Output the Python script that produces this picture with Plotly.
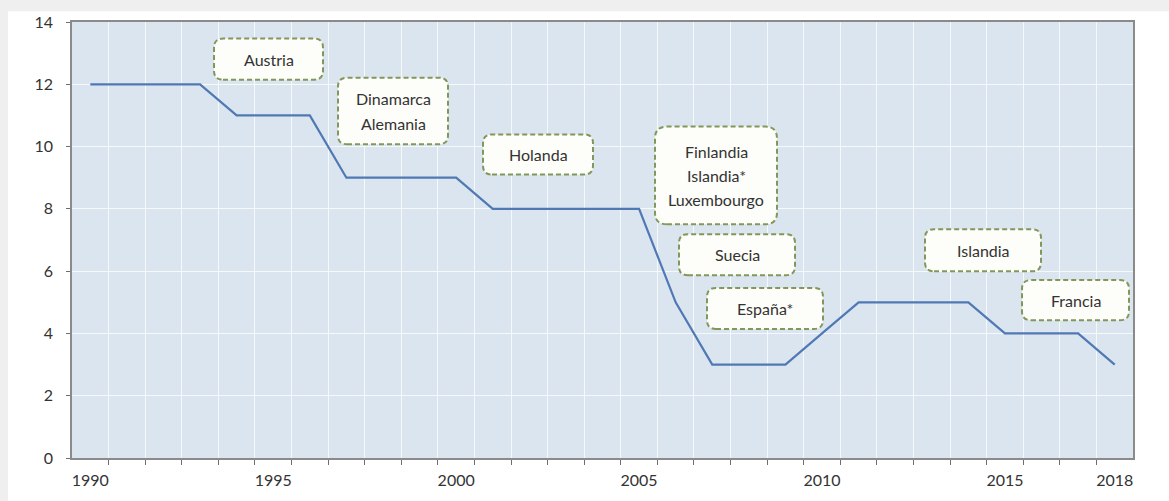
import plotly.graph_objects as go

years = list(range(1990, 2019))
values = [12, 12, 12, 12, 11, 11, 11, 9, 9, 9, 9, 8, 8, 8, 8, 8,
          5, 3, 3, 3, 4, 5, 5, 5, 5, 4, 4, 4, 3]
tick_labels = [1990, 1995, 2000, 2005, 2010, 2015, 2018]
y_ticks = [0, 2, 4, 6, 8, 10, 12, 14]

# annotation boxes: text lines and pixel box (x0, y0, x1, y1)
boxes = [
    (["Austria"], (214, 35, 323, 77)),
    (["Dinamarca", "Alemania"], (338, 75, 448, 143)),
    (["Holanda"], (483, 133, 593, 174)),
    (["Finlandia", "Islandia*", "Luxembourgo"], (655, 125, 777, 225)),
    (["Suecia"], (679, 235, 795, 277)),
    (["España*"], (707, 290, 823, 332)),
    (["Islandia"], (925, 230, 1041, 273)),
    (["Francia"], (1022, 282, 1129, 323)),
]

W, H = 1169, 501
L, R, T, B = 72, 1133, 18, 464
PW, PH = R - L, B - T


def px(x):
    return (x - L) / PW


def py(y):
    return (B - y) / PH


def rounded_path(x0, y0, x1, y1, r):
    rx, ry = r / PW, r / PH
    a, b, c, d = px(x0), py(y1), px(x1), py(y0)  # left, bottom, right, top
    return (f"M {a+rx},{b} L {c-rx},{b} Q {c},{b} {c},{b+ry} "
            f"L {c},{d-ry} Q {c},{d} {c-rx},{d} L {a+rx},{d} "
            f"Q {a},{d} {a},{d-ry} L {a},{b+ry} Q {a},{b} {a+rx},{b} Z")


fig = go.Figure()
fig.add_trace(go.Scatter(x=years, y=values, mode="lines",
                         line=dict(color="#5079b3", width=2.2),
                         hoverinfo="skip", showlegend=False))

shapes = []
# light grey page strips (top and left)
shapes.append(dict(type="rect", xref="paper", yref="paper",
                   x0=px(0), x1=px(W), y0=py(7), y1=py(-10),
                   fillcolor="#efefef", line=dict(width=0), layer="below"))
shapes.append(dict(type="rect", xref="paper", yref="paper",
                   x0=px(0), x1=px(8), y0=py(H + 10), y1=py(-10),
                   fillcolor="#efefef", line=dict(width=0), layer="below"))

annotations = []
for lines, (x0, y0, x1, y1) in boxes:
    r = 12 if len(lines) == 3 else 9
    shapes.append(dict(type="path", xref="paper", yref="paper",
                       path=rounded_path(x0, y0, x1, y1, r),
                       fillcolor="#fdfdf9",
                       line=dict(color="#82975a", width=2, dash="5px,3px")))
    cx = (x0 + x1) / 2
    cy = (y0 + y1) / 2
    n = len(lines)
    for i, t in enumerate(lines):
        ly = cy + (i - (n - 1) / 2) * 25
        annotations.append(dict(xref="paper", yref="paper", x=px(cx), y=py(ly),
                                text=t, showarrow=False, xanchor="center",
                                yanchor="middle",
                                font=dict(family="Lato", size=16, color="#333333")))

fig.update_layout(
    width=W, height=H,
    margin=dict(l=L, r=W - R, t=T, b=H - B, pad=0),
    paper_bgcolor="white",
    plot_bgcolor="#dbe5f0",
    font=dict(family="Lato", size=16, color="#333333"),
    shapes=shapes,
    annotations=annotations,
    xaxis=dict(
        range=[years[0] - 0.5, years[-1] + 0.5],
        tickmode="array", tickvals=tick_labels,
        ticktext=[str(v) for v in tick_labels],
        ticks="", showgrid=False, zeroline=False,
        showline=True, linecolor="#8a8a8a", linewidth=1.5, mirror=True,
        tickfont=dict(family="Lato", size=16, color="#333333"),
        ticklabelstandoff=7,
        minor=dict(tickmode="array", tickvals=[y - 0.5 for y in years[1:]],
                   ticks="outside", ticklen=5, tickcolor="#6e6e6e", tickwidth=1.2,
                   showgrid=True, gridcolor="rgba(255,255,255,0.75)", gridwidth=1),
    ),
    yaxis=dict(
        range=[0, 14], tickmode="array", tickvals=y_ticks,
        ticks="outside", ticklen=4, tickcolor="#6e6e6e",
        showgrid=True, gridcolor="rgba(255,255,255,0.75)", gridwidth=1,
        zeroline=False,
        showline=True, linecolor="#8a8a8a", linewidth=1.5, mirror=True,
        tickfont=dict(family="Lato", size=16, color="#333333"),
        ticklabelstandoff=10,
    ),
)

fig.write_html("out.html",
               config={"displayModeBar": False},
               post_script="document.body.style.margin='0px';"
                           "document.body.style.overflow='hidden';")
